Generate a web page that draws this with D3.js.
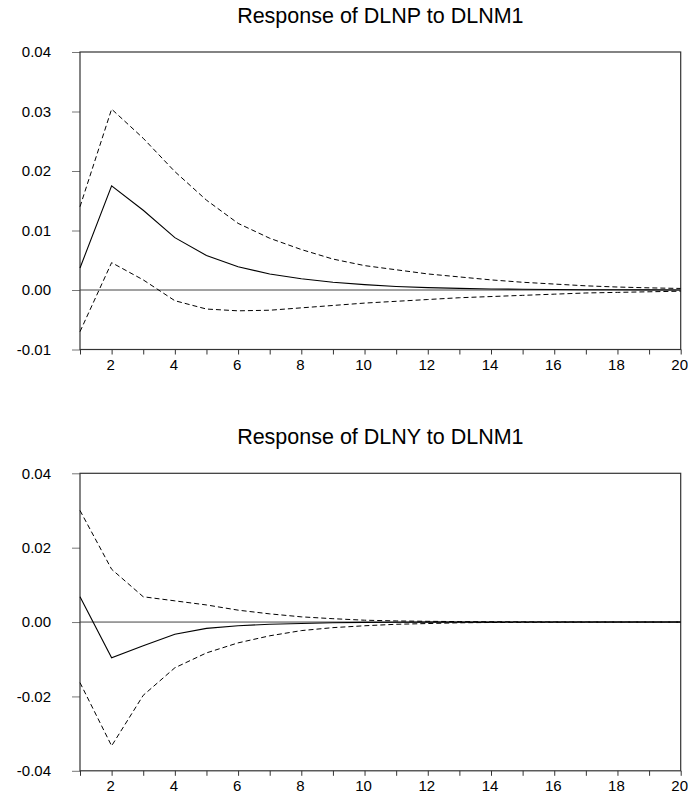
<!DOCTYPE html>
<html>
<head>
<meta charset="utf-8">
<script src="https://cdn.jsdelivr.net/npm/d3@7"></script>
<style>
  html, body { margin: 0; padding: 0; background: #fff; }
  svg { display: block; font-family: "Liberation Sans", Arial, sans-serif; }
</style>
</head>
<body>
<div id="irf"></div>
<script>
// periods after the shock
const periods = d3.range(1, 21);

// Response of DLNP to DLNM1
const dlnpResponse = [0.0037, 0.0175, 0.0134, 0.0088, 0.0058, 0.0039, 0.0027, 0.0019, 0.0013, 0.0009,
  0.0006, 0.0004, 0.00027, 0.00018, 0.00012, 0.00008, 0.00005, 0.00003, 0.00002, 0.00001];
const dlnpUpper = [0.0140, 0.0304, 0.0255, 0.0199, 0.0151, 0.0112, 0.0087, 0.0068, 0.0052, 0.0041,
  0.0034, 0.0027, 0.0022, 0.0017, 0.0013, 0.0010, 0.0007, 0.0005, 0.00036, 0.00026];
const dlnpLower = [-0.0070, 0.0046, 0.0017, -0.0018, -0.0032, -0.0035, -0.0034, -0.0030, -0.0026, -0.0022,
  -0.0019, -0.0016, -0.0013, -0.0011, -0.0009, -0.0007, -0.0005, -0.0004, -0.0003, -0.0002];

// Response of DLNY to DLNM1
const dlnyResponse = [0.0068, -0.0096, -0.0064, -0.0033, -0.0017, -0.0010, -0.0006, -0.0004, -0.0002, -0.0001,
  -0.00006, -0.00003, -0.00002, -0.00001, 0, 0, 0, 0, 0, 0];
const dlnyUpper = [0.0300, 0.0142, 0.0068, 0.0057, 0.0046, 0.0032, 0.0022, 0.0014, 0.0009, 0.0005,
  0.0003, 0.0002, 0.00012, 0.00008, 0.00005, 0.00003, 0.00002, 0.00001, 0.00001, 0];
const dlnyLower = [-0.0163, -0.0333, -0.0197, -0.0123, -0.0083, -0.0056, -0.0037, -0.0023, -0.0015, -0.0010,
  -0.0006, -0.0004, -0.0002, -0.00012, -0.00007, -0.00004, -0.00002, -0.00001, -0.00001, 0];

const dlnpTicks = [-0.01, 0.00, 0.01, 0.02, 0.03, 0.04];
const dlnyTicks = [-0.04, -0.02, 0.00, 0.02, 0.04];
const xTickLabels = [2, 4, 6, 8, 10, 12, 14, 16, 18, 20];

const width = 688;
const height = 801;
const margin = { left: 80, right: 7 };

const panels = [
  { title: "Response of DLNP to DLNM1", top: 52, resp: dlnpResponse, up: dlnpUpper, low: dlnpLower,
    ticks: dlnpTicks, domain: [-0.01, 0.04] },
  { title: "Response of DLNY to DLNM1", top: 473.3, resp: dlnyResponse, up: dlnyUpper, low: dlnyLower,
    ticks: dlnyTicks, domain: [-0.04, 0.04] }
];
const plotHeight = 297.5;
const fmt = d => d3.format(".2f")(d).replace("\u2212", "-");

const svg = d3.select("#irf")
  .append("svg")
    .attr("width", width)
    .attr("height", height);

const xScale = d3.scaleLinear()
  .domain([1, 20])
  .range([margin.left, width - margin.right - 0.3]);

panels.forEach(p => {
  const yScale = d3.scaleLinear()
    .domain(p.domain)
    .range([p.top + plotHeight, p.top]);

  const g = svg.append("g");

  // title
  g.append("text")
    .text(p.title)
    .attr("x", (xScale.range()[0] + xScale.range()[1]) / 2)
    .attr("y", p.top - 35)
    .attr("text-anchor", "middle")
    .attr("dominant-baseline", "middle")
    .style("font-size", "21.5px")
    .style("fill", "#000");

  // y axis, ticks outward
  const yAxis = d3.axisLeft(yScale)
    .tickValues(p.ticks)
    .tickSize(8)
    .tickPadding(21)
    .tickFormat(fmt);
  g.append("g")
    .attr("transform", `translate(${margin.left},0)`)
    .call(yAxis)
    .call(a => a.select(".domain").remove())
    .call(a => a.selectAll("line").attr("stroke", "#777"))
    .call(a => a.selectAll("text")
      .style("font-size", "15px")
      .style("font-family", "'Liberation Sans', Arial, sans-serif")
      .attr("fill", "#000"));

  // x axis, tick at every period, labels on even ones
  const xAxis = d3.axisBottom(xScale)
    .tickValues(periods)
    .tickSize(5)
    .tickPadding(5)
    .tickFormat(d => xTickLabels.includes(d) ? d : "");
  g.append("g")
    .attr("transform", `translate(0,${p.top + plotHeight})`)
    .call(xAxis)
    .call(a => a.select(".domain").remove())
    .call(a => a.selectAll("line").attr("stroke", "#333"))
    .call(a => a.selectAll("text")
      .attr("dx", -1.5)
      .style("font-size", "15px")
      .style("font-family", "'Liberation Sans', Arial, sans-serif")
      .attr("fill", "#000"));

  // frame
  g.append("rect")
    .attr("x", xScale.range()[0])
    .attr("y", p.top)
    .attr("width", xScale.range()[1] - xScale.range()[0])
    .attr("height", plotHeight)
    .attr("fill", "none")
    .attr("stroke", "#333")
    .attr("stroke-width", 1.2);

  // zero line
  g.append("line")
    .attr("x1", xScale.range()[0])
    .attr("x2", xScale.range()[1])
    .attr("y1", yScale(0))
    .attr("y2", yScale(0))
    .attr("stroke", "#444")
    .attr("stroke-width", 1);

  const line = d3.line()
    .x((d, i) => xScale(periods[i]))
    .y(d => yScale(d));

  [p.up, p.low].forEach(band => {
    g.append("path")
      .attr("d", line(band))
      .attr("fill", "none")
      .attr("stroke", "#000")
      .attr("stroke-width", 1)
      .attr("stroke-dasharray", "5,3");
  });

  g.append("path")
    .attr("d", line(p.resp))
    .attr("fill", "none")
    .attr("stroke", "#000")
    .attr("stroke-width", 1.1);
});
</script>
</body>
</html>
